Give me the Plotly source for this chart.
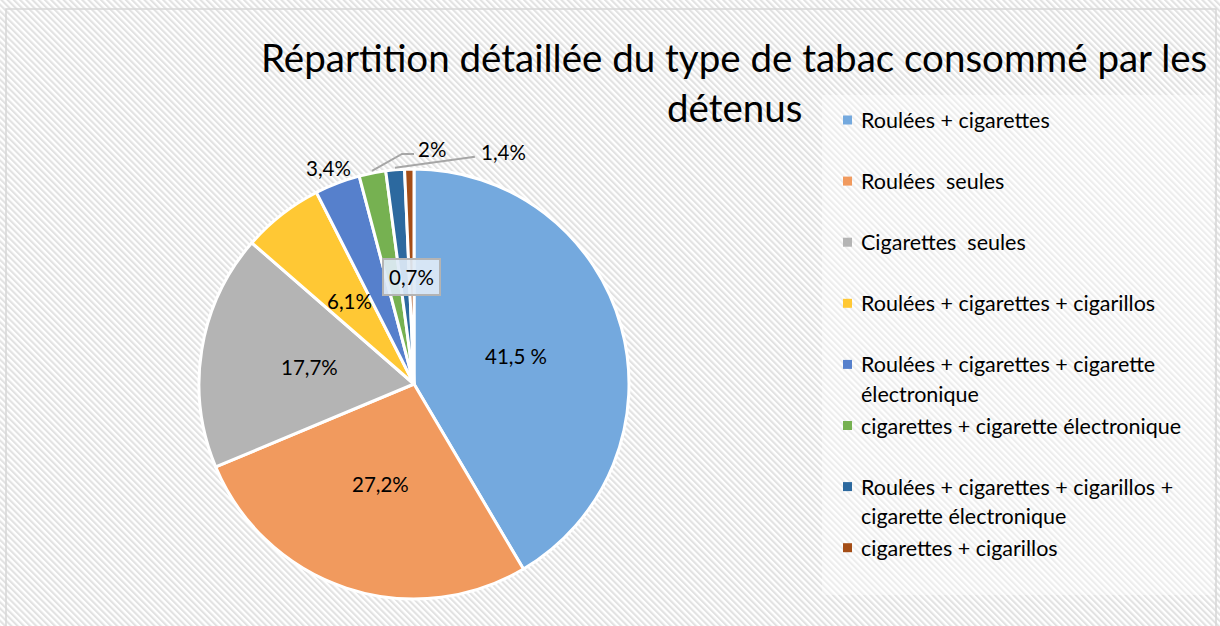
import base64
import math
import plotly.graph_objects as go

W, H = 1220, 626

# ---- data ----
categories = [
    "Roulées + cigarettes",
    "Roulées  seules",
    "Cigarettes  seules",
    "Roulées + cigarettes + cigarillos",
    "Roulées + cigarettes + cigarette électronique",
    "cigarettes + cigarette électronique",
    "Roulées + cigarettes + cigarillos + cigarette électronique",
    "cigarettes + cigarillos",
]
legend_lines = [
    ["Roulées + cigarettes"],
    ["Roulées  seules"],
    ["Cigarettes  seules"],
    ["Roulées + cigarettes + cigarillos"],
    ["Roulées + cigarettes + cigarette", "électronique"],
    ["cigarettes + cigarette électronique"],
    ["Roulées + cigarettes + cigarillos +", "cigarette électronique"],
    ["cigarettes + cigarillos"],
]
values = [41.5, 27.2, 17.7, 6.1, 3.4, 2.0, 1.4, 0.7]
value_labels = ["41,5 %", "27,2%", "17,7%", "6,1%", "3,4%", "2%", "1,4%", "0,7%"]
colors = ["#74a9de", "#f19a5e", "#b4b4b4", "#ffc834", "#5680cc", "#76b151", "#2c699f", "#a44d16"]

title_lines = ["Répartition détaillée du type de tabac consommé par les", "détenus"]

# ---- geometry (pixels) ----
cx, cy, R = 414, 384, 215
FONT = "Lato"


def px(x):
    return x / W


def py(y):
    return 1 - y / H


# hatched background as an svg pattern
svg = f'''<svg xmlns="http://www.w3.org/2000/svg" width="{W}" height="{H}" viewBox="0 0 {W} {H}" preserveAspectRatio="none">
<defs><pattern id="p" width="4.4" height="4.4" patternUnits="userSpaceOnUse" patternTransform="rotate(-45)">
<rect width="4.4" height="4.4" fill="#ffffff"/><rect width="2.1" height="4.4" fill="#e2e2e2"/></pattern></defs>
<rect width="{W}" height="{H}" fill="url(#p)"/></svg>'''
src = "data:image/svg+xml;base64," + base64.b64encode(svg.encode()).decode()

fig = go.Figure()
fig.add_trace(go.Pie(
    labels=categories,
    values=values,
    sort=False,
    direction="clockwise",
    rotation=0,
    marker=dict(colors=colors, line=dict(color="#ffffff", width=3)),
    textinfo="none",
    hoverinfo="label+percent",
    showlegend=False,
    domain=dict(x=[px(cx - R), px(cx + R)], y=[py(cy + R), py(cy - R)]),
))

annotations = []
shapes = []

# background border and legend box
shapes.append(dict(type="rect", xref="paper", yref="paper", x0=px(6), x1=px(1216), y0=py(640), y1=py(9),
                   line=dict(color="#d6d6d6", width=1.5), fillcolor="rgba(0,0,0,0)", layer="below"))
shapes.append(dict(type="rect", xref="paper", yref="paper", x0=px(822), x1=px(1214), y0=py(595), y1=py(95),
                   line=dict(width=0), fillcolor="rgba(255,255,255,0.4)", layer="below"))

# title
for i, t in enumerate(title_lines):
    annotations.append(dict(text=t, x=px(734), y=py(57 + 50 * i), xref="paper", yref="paper",
                            xanchor="center", yanchor="middle", showarrow=False,
                            font=dict(family=FONT, size=38.5, color="#000000")))

# data labels
total = sum(values)
cum = 0
mids = []
for v in values:
    mids.append((cum + v / 2) / total * 2 * math.pi)
    cum += v


def pt(a, r):
    return cx + r * math.sin(a), cy - r * math.cos(a)


label_font = dict(family=FONT, size=20.5, color="#000000")
for i, (a, lab) in enumerate(zip(mids, value_labels)):
    if i in (0, 1, 2, 3):
        x, y = pt(a, 0.49 * R)
        annotations.append(dict(text=lab, x=px(x), y=py(y), xref="paper", yref="paper", showarrow=False,
                                xanchor="center", yanchor="middle", font=label_font))
    elif i == 7:
        x, y = pt(a, 0.5 * R)
        annotations.append(dict(text=lab, x=px(x), y=py(y), xref="paper", yref="paper", showarrow=False,
                                xanchor="center", yanchor="middle",
                                font=label_font, bgcolor="rgba(222,234,246,0.92)", bordercolor="#b4b4b4",
                                borderwidth=2, borderpad=5))
    elif i == 4:
        x, y = pt(a, 1.075 * R)
        annotations.append(dict(text=lab, x=px(x - 3), y=py(y), xref="paper", yref="paper", showarrow=False,
                                xanchor="center", yanchor="middle", font=label_font))
    elif i == 5:
        x0, y0 = pt(a, 1.01 * R)
        xe, ye = x0 + 30, y0 - 17
        shapes.append(dict(type="path", xref="paper", yref="paper",
                           path=f"M {px(x0)},{py(y0)} L {px(xe)},{py(ye)} L {px(xe + 12)},{py(ye)}",
                           line=dict(color="#a6a6a6", width=2)))
        annotations.append(dict(text=lab, x=px(xe + 14), y=py(ye - 5), xref="paper", yref="paper",
                                xanchor="left", yanchor="middle", showarrow=False, font=label_font))
    elif i == 6:
        x0, y0 = pt(a, 1.01 * R)
        xe, ye = x0 + 80, y0 - 11
        shapes.append(dict(type="path", xref="paper", yref="paper",
                           path=f"M {px(x0)},{py(y0)} L {px(xe)},{py(ye)}",
                           line=dict(color="#a6a6a6", width=2)))
        annotations.append(dict(text=lab, x=px(xe + 4), y=py(ye - 5), xref="paper", yref="paper",
                                xanchor="left", yanchor="middle", showarrow=False, font=label_font))

# manual legend
leg_font = dict(family=FONT, size=21.5, color="#000000")
for i, (lines, c) in enumerate(zip(legend_lines, colors)):
    y_first = 120 + 61.1 * i
    shapes.append(dict(type="rect", xref="paper", yref="paper",
                       x0=px(843), x1=px(852), y0=py(y_first + 4.5), y1=py(y_first - 4.5),
                       fillcolor=c, line=dict(width=0)))
    for j, ln in enumerate(lines):
        annotations.append(dict(text=ln, x=px(859), y=py(y_first + 29.5 * j), xref="paper", yref="paper",
                                xanchor="left", yanchor="middle", showarrow=False, font=leg_font))

fig.update_layout(
    width=W, height=H,
    margin=dict(l=0, r=0, t=0, b=0),
    paper_bgcolor="#ffffff",
    plot_bgcolor="#ffffff",
    images=[dict(source=src, xref="paper", yref="paper", x=0, y=1, sizex=1, sizey=1,
                 sizing="stretch", xanchor="left", yanchor="top", layer="below")],
    shapes=shapes,
    annotations=annotations,
    showlegend=False,
)

fig.write_html("out.html", config={"displayModeBar": False},
               post_script="document.body.style.margin='0';document.body.style.overflow='hidden';")
